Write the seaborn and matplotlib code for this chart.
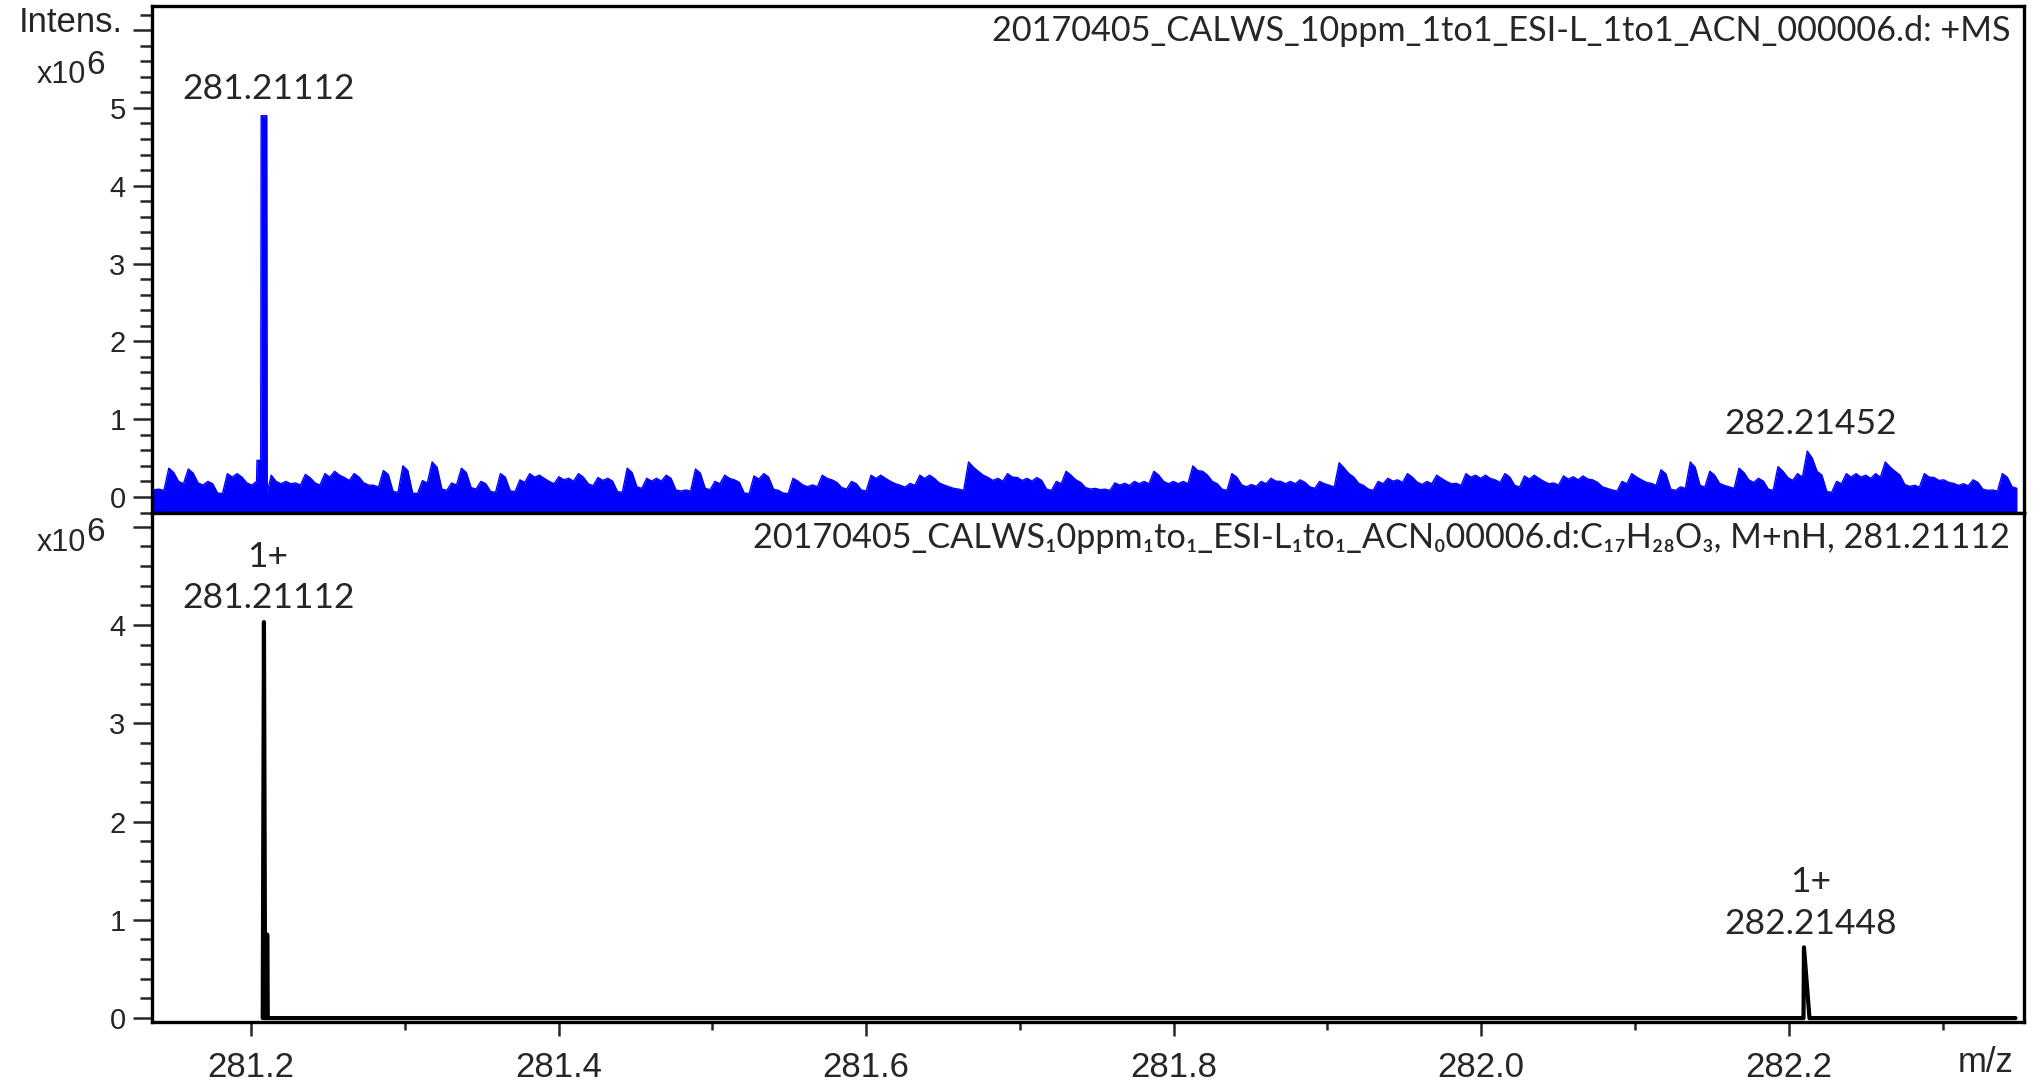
import numpy as np
import pandas as pd
import matplotlib
matplotlib.use("Agg")
import matplotlib.pyplot as plt
import seaborn as sns
from matplotlib.ticker import FixedLocator, FuncFormatter, MultipleLocator

# ---------------- data (intensities in units of 1e6) ----------------
noise_mz_start = 281.1356
noise_mz_end = 282.3470
noise_seg1 = [0.11, 0.10, 0.37, 0.20, 0.36, 0.18, 0.20, 0.05, 0.30, 0.30, 0.18, 0.16, 0.33,
              0.20, 0.20, 0.18, 0.29, 0.18, 0.30, 0.33, 0.25, 0.30, 0.18, 0.15, 0.34, 0.07,
              0.40, 0.05, 0.21, 0.45, 0.10, 0.18, 0.37, 0.12, 0.20, 0.07, 0.30, 0.08, 0.22,
              0.30, 0.28, 0.20, 0.26, 0.24, 0.30, 0.17, 0.25, 0.24, 0.07, 0.37, 0.13, 0.24,
              0.24, 0.28, 0.09, 0.09, 0.36, 0.11, 0.20, 0.28, 0.22, 0.05, 0.27, 0.30, 0.10,
              0.05, 0.24]
noise_seg2 = [0.155, 0.155, 0.28, 0.22, 0.12, 0.20, 0.09, 0.28, 0.28, 0.20, 0.15, 0.175,
              0.28, 0.28, 0.18, 0.13, 0.10, 0.45, 0.33, 0.25, 0.24, 0.30, 0.25, 0.24, 0.25,
              0.10, 0.20, 0.33, 0.22, 0.12, 0.11, 0.10, 0.18, 0.175, 0.20, 0.20, 0.33, 0.20,
              0.20, 0.20, 0.40, 0.33, 0.20, 0.10, 0.30, 0.155, 0.16, 0.20, 0.24, 0.20, 0.20,
              0.22, 0.13, 0.20, 0.15, 0.44, 0.30, 0.175, 0.10, 0.20, 0.24, 0.22, 0.30]
noise_seg3 = [0.19, 0.20, 0.28, 0.20, 0.175, 0.30, 0.28, 0.28, 0.22, 0.30, 0.15, 0.27, 0.28,
              0.20, 0.18, 0.27, 0.26, 0.27, 0.22, 0.13, 0.09, 0.20, 0.30, 0.22, 0.175, 0.35,
              0.10, 0.13, 0.45, 0.15, 0.33, 0.175, 0.13, 0.37, 0.22, 0.24, 0.10, 0.39, 0.25,
              0.30, 0.59, 0.33, 0.07, 0.20, 0.30, 0.30, 0.28, 0.30, 0.45, 0.33, 0.16, 0.15,
              0.30, 0.25, 0.22, 0.175, 0.17, 0.22, 0.10, 0.09, 0.30, 0.13]

top_peak_mz = [281.2036, 281.2039, 281.2063, 281.2066, 281.2102, 281.2105]
top_peak_int = [0.20, 0.47, 0.47, 4.90, 4.90, 0.05]

bottom_mz = [281.2076, 281.2084, 281.2092, 281.2103, 281.2105, 281.2109,
             282.2096, 282.2099, 282.2135, 282.3475]
bottom_int = [0.0, 4.03, 0.0, 0.0, 0.85, 0.0, 0.0, 0.72, 0.0, 0.0]

top_label_mz = [281.21112, 282.21452]
top_label_int = [4.90, 0.59]
top_labels = ["281.21112", "282.21452"]
bottom_label_mz = [281.21112, 282.21448]
bottom_label_int = [4.03, 0.72]
bottom_labels = ["281.21112", "282.21448"]
bottom_charges = ["1+", "1+"]

top_title = "20170405_CALWS_10ppm_1to1_ESI-L_1to1_ACN_000006.d: +MS"
bottom_title = "20170405_CALWS\u20810ppm\u2081to\u2081_ESI-L\u2081to\u2081_ACN\u208000006.d:C\u2081\u2087H\u2082\u2088O\u2083, M+nH, 281.21112"
x_major_ticks = [281.2, 281.4, 281.6, 281.8, 282.0, 282.2]
top_y_major = [0, 1, 2, 3, 4, 5, 6]
bottom_y_major = [0, 1, 2, 3, 4, 5]

# ---------------- build tables ----------------
noise_int = noise_seg1 + noise_seg2 + noise_seg3
noise_mz = np.linspace(noise_mz_start, noise_mz_end, len(noise_int))
# profile-style rendering: sharp rise at each sample, slight decay before the next
half = (noise_mz[1] - noise_mz[0]) / 2
rows = []
for mz, v in zip(noise_mz, noise_int):
    rows.append((mz - half * 0.55, v))
    rows.append((mz + half * 0.45, v * 0.85))
noise_df = pd.DataFrame(rows, columns=["mz", "I"])
pk_lo, pk_hi = min(top_peak_mz), max(top_peak_mz)
noise_df = noise_df[(noise_df.mz < pk_lo) | (noise_df.mz > pk_hi)]
top_df = pd.concat([noise_df, pd.DataFrame({"mz": top_peak_mz, "I": top_peak_int})])
top_df = top_df.sort_values("mz", kind="stable").reset_index(drop=True)
bottom_df = pd.DataFrame({"mz": bottom_mz, "I": bottom_int})

# ---------------- style ----------------
sns.set_style("ticks")
plt.rcParams["font.family"] = ["Liberation Sans", "DejaVu Sans"]
label_font = ["Lato", "DejaVu Sans"]

W, H = 2042, 1084
fig = plt.figure(figsize=(W / 100, H / 100), dpi=100)
left, right = 152 / W, 2024 / W
ax1 = fig.add_axes([left, 1 - 513 / H, right - left, (513 - 6) / H])
ax2 = fig.add_axes([left, 1 - 1022 / H, right - left, (1022 - 513) / H], sharex=ax1)

xlim = (281.1356, 282.353)
top_ylim = (-0.206, 6.31)
bot_ylim = (-0.04, 5.14)

# top spectrum
ax1.fill_between(top_df.mz, top_ylim[0], top_df.I, color="#0000ff", lw=0)
sns.lineplot(data=top_df, x="mz", y="I", ax=ax1, color="#0000ff", lw=1.0,
             estimator=None, sort=False)
# bottom spectrum
sns.lineplot(data=bottom_df, x="mz", y="I", ax=ax2, color="black", lw=3.0,
             estimator=None, sort=False)

for ax, ylim in ((ax1, top_ylim), (ax2, bot_ylim)):
    ax.set_xlim(*xlim)
    ax.set_ylim(*ylim)
    ax.set_xlabel("")
    ax.set_ylabel("")
    for s in ax.spines.values():
        s.set_visible(True)
        s.set_linewidth(2.4)
        s.set_color("black")
    ax.yaxis.set_minor_locator(MultipleLocator(0.2))
    ax.tick_params(axis="y", which="major", length=14, width=1.8, labelsize=21, pad=5,
                   direction="out", left=True)
    ax.tick_params(axis="y", which="minor", length=8.5, width=1.8, direction="out", left=True)

ax1.yaxis.set_major_locator(FixedLocator(top_y_major))
ax1.yaxis.set_major_formatter(FuncFormatter(lambda v, p: "" if v >= 6 else f"{v:.0f}"))
ax2.yaxis.set_major_locator(FixedLocator(bottom_y_major))
ax2.yaxis.set_major_formatter(FuncFormatter(lambda v, p: "" if v >= 5 else f"{v:.0f}"))

ax1.tick_params(axis="x", which="both", bottom=False, labelbottom=False, top=False)
ax2.xaxis.set_major_locator(FixedLocator(x_major_ticks))
ax2.xaxis.set_minor_locator(MultipleLocator(0.1))
ax2.xaxis.set_major_formatter(FuncFormatter(lambda v, p: f"{v:.1f}"))
ax2.tick_params(axis="x", which="major", length=10, width=1.8, labelsize=25, pad=11,
                direction="out", bottom=True)
ax2.tick_params(axis="x", which="minor", length=6, width=1.8, direction="out", bottom=True)

# peak labels
for mz, h, t in zip(top_label_mz, top_label_int, top_labels):
    ax1.annotate(t, xy=(mz, h), xytext=(0, 19.5), textcoords="offset points",
                 ha="center", va="center", fontsize=25.5, family=label_font)
for mz, h, t, c in zip(bottom_label_mz, bottom_label_int, bottom_labels, bottom_charges):
    ax2.annotate(t, xy=(mz, h), xytext=(0, 17), textcoords="offset points",
                 ha="center", va="center", fontsize=25.5, family=label_font)
    ax2.annotate(c, xy=(mz, h), xytext=(0, 47), textcoords="offset points",
                 ha="center", va="center", fontsize=25.5, family=label_font)

# titles
fig.text(2010 / W, 1 - 31 / H, top_title, ha="right", va="center", fontsize=24.7,
         family=label_font)
fig.text(2010 / W, 1 - 538 / H, bottom_title, ha="right", va="center", fontsize=24.7,
         family=label_font)

# axis unit labels
fig.text(123 / W, 1 - 23 / H, "Intens.", ha="right", va="center", fontsize=25)
for yc in (75, 543):
    fig.text(86 / W, 1 - yc / H, "x10", ha="right", va="center", fontsize=22)
    fig.text(86 / W, 1 - (yc - 10) / H, "6", ha="left", va="center", fontsize=24)
fig.text(1986 / W, 1 - 1063 / H, "m/z", ha="center", va="center", fontsize=25)

fig.savefig("out.png", dpi=100)
